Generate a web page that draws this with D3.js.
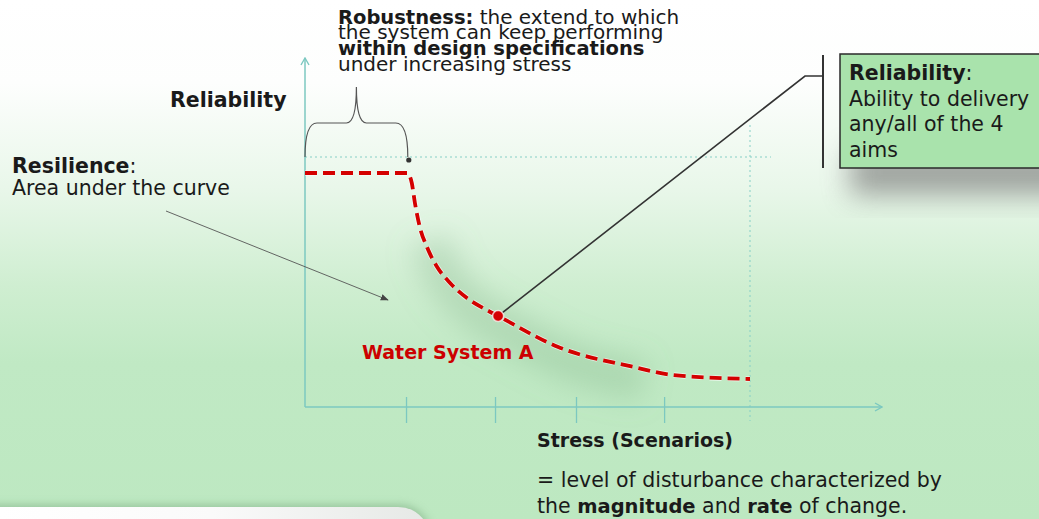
<!DOCTYPE html>
<html>
<head>
<meta charset="utf-8">
<script src="https://cdn.jsdelivr.net/npm/d3@7"></script>
<style>
  body { margin: 0; overflow: hidden; }
  text { font-family: "DejaVu Sans", Verdana, sans-serif; fill: #1a1a1a; }
</style>
</head>
<body>
<script>
// curve of Water System A (stress 0..1, reliability 0..1)
const stress = [0, 0.231, 0.240, 0.247, 0.258, 0.274, 0.297, 0.326, 0.364, 0.400, 0.434, 0.569, 0.739, 0.827, 1.0];
const reliability = [0.936, 0.936, 0.896, 0.816, 0.72, 0.64, 0.56, 0.496, 0.436, 0.396, 0.364, 0.24, 0.16, 0.128, 0.112];
const stressTicks = [0.227, 0.427, 0.609, 0.807];
const markIndex = 10;   // red dot where the reliability callout points
const designLevel = 1;  // dotted design spec level
const maxStress = 1;

const robustnessLines = [
  [["Robustness:", true], [" the extend to which", false]],
  [["the system can keep performing", false]],
  [["within design specifications", true]],
  [["under increasing stress", false]]
];
const reliabilityBox = [
  [["Reliability", true], [":", false]],
  [["Ability to delivery", false]],
  [["any/all of the 4", false]],
  [["aims", false]]
];
const stressNote = [
  [["= level of disturbance characterized by", false]],
  [["the ", false], ["magnitude", true], [" and ", false], ["rate", true], [" of change.", false]]
];

const width = 1039, height = 519;
const x = d3.scaleLinear().domain([0, 1]).range([305, 750]);
const y = d3.scaleLinear().domain([0, 1]).range([407, 157]);

const svg = d3.select("body").append("svg")
  .attr("width", width).attr("height", height);
const defs = svg.append("defs");

// background
const bg = defs.append("linearGradient").attr("id", "bg")
  .attr("x1", 0).attr("y1", 0).attr("x2", 0).attr("y2", 1);
[[0, "#ffffff"], [0.16, "#fdfefd"], [0.36, "#e9f7ea"], [0.55, "#cfeed1"], [0.7, "#c0e9c4"], [1, "#bde8c1"]]
  .forEach(s => bg.append("stop").attr("offset", s[0]).attr("stop-color", s[1]));
svg.append("rect").attr("width", width).attr("height", height).attr("fill", "url(#bg)");

defs.append("filter").attr("id", "blur").attr("x", -0.5).attr("y", -0.5).attr("width", 2).attr("height", 2)
  .append("feGaussianBlur").attr("stdDeviation", 14);
defs.append("filter").attr("id", "blur2").attr("x", -0.5).attr("y", -0.5).attr("width", 2).attr("height", 2)
  .append("feGaussianBlur").attr("stdDeviation", 4);

function chevron(id, color) {
  defs.append("marker").attr("id", id)
    .attr("viewBox", "0 0 10 10").attr("refX", 9).attr("refY", 5)
    .attr("markerWidth", 10).attr("markerHeight", 10).attr("markerUnits", "userSpaceOnUse")
    .attr("orient", "auto")
    .append("path").attr("d", "M2,1 L9,5 L2,9")
    .attr("fill", "none").attr("stroke", color).attr("stroke-width", 1.4);
}
chevron("axisArrow", "#7cc8c0");
defs.append("marker").attr("id", "tri")
  .attr("viewBox", "0 0 10 10").attr("refX", 9).attr("refY", 5)
  .attr("markerWidth", 8).attr("markerHeight", 8).attr("markerUnits", "userSpaceOnUse")
  .attr("orient", "auto")
  .append("path").attr("d", "M0,1 L10,5 L0,9 Z").attr("fill", "#444");

const pts = stress.map((s, i) => [s, reliability[i]]);
const line = d3.line().x(d => x(d[0])).y(d => y(d[1])).curve(d3.curveMonotoneX);
const curvePath = "M" + x(pts[0][0]) + "," + y(pts[0][1]) + "L" + line(pts.slice(1)).slice(1);

// soft shadow around the curve
svg.append("path").attr("d", line(pts.slice(4, 13)))
  .attr("transform", "translate(10,14)")
  .attr("fill", "none").attr("stroke", "#7fae86").attr("stroke-opacity", 0.3)
  .attr("stroke-width", 40).attr("filter", "url(#blur)");

// bottom white panel
const panelGrad = defs.append("linearGradient").attr("id", "panel");
panelGrad.append("stop").attr("offset", 0).attr("stop-color", "#ffffff");
panelGrad.append("stop").attr("offset", 0.5).attr("stop-color", "#fafafa");
panelGrad.append("stop").attr("offset", 1).attr("stop-color", "#e6e9e6");
svg.append("path").attr("d", "M-10,505 L400,505 Q418,505 430,525 L-10,525 Z")
  .attr("fill", "#6f9f74").attr("opacity", 0.5).attr("filter", "url(#blur2)");
svg.append("path").attr("d", "M0,507 L398,507 Q414,507 424,520 L0,520 Z")
  .attr("fill", "url(#panel)");

// guide lines
const guide = svg.append("g").attr("stroke", "#86cfc6").attr("stroke-width", 1)
  .attr("stroke-dasharray", "2,3").attr("fill", "none");
guide.append("line").attr("x1", x(0)).attr("x2", 771).attr("y1", y(designLevel)).attr("y2", y(designLevel));
guide.append("line").attr("x1", x(maxStress)).attr("x2", x(maxStress)).attr("y1", 125).attr("y2", 421);

// axes
svg.append("line").attr("x1", x(0)).attr("y1", y(0)).attr("x2", x(0)).attr("y2", 58)
  .attr("stroke", "#7cc8c0").attr("stroke-width", 1.5).attr("marker-end", "url(#axisArrow)");
svg.append("line").attr("x1", x(0)).attr("y1", y(0)).attr("x2", 882).attr("y2", y(0))
  .attr("stroke", "#7cc8c0").attr("stroke-width", 1.5).attr("marker-end", "url(#axisArrow)");

const xAxis = svg.append("g").attr("transform", `translate(0,${y(0)})`)
  .call(d3.axisBottom(x).tickValues(stressTicks).tickSize(16).tickFormat(""));
xAxis.select(".domain").remove();
xAxis.selectAll(".tick line").attr("y1", -10).attr("stroke", "#7cc8c0").attr("stroke-width", 1.3);

// brace over the robust range
const bx0 = x(0), bx1 = x(stress[1]), bm = (bx0 + bx1) / 2;
svg.append("path")
  .attr("d", `M${bx0},${y(designLevel)} Q${bx0},123 ${bx0 + 12},123 L${bm - 10},123 Q${bm},123 ${bm},87 Q${bm},123 ${bm + 10},123 L${bx1 - 12},123 Q${bx1},123 ${bx1},${y(designLevel)}`)
  .attr("fill", "none").attr("stroke", "#555").attr("stroke-width", 1.2);
svg.append("circle").attr("cx", bx1 + 1).attr("cy", y(designLevel) + 3).attr("r", 2.6).attr("fill", "#333");

// resilience arrow
svg.append("line").attr("x1", 166).attr("y1", 211).attr("x2", 388).attr("y2", 300)
  .attr("stroke", "#555").attr("stroke-width", 0.9).attr("marker-end", "url(#tri)");

// curve
svg.append("path").attr("d", curvePath)
  .attr("fill", "none").attr("stroke", "#ffffff").attr("stroke-opacity", 0.6)
  .attr("stroke-width", 5.5).attr("stroke-dasharray", "12,6");
svg.append("path").attr("d", curvePath)
  .attr("fill", "none").attr("stroke", "#d40000")
  .attr("stroke-width", 3.8).attr("stroke-dasharray", "12,6");

// reliability callout
const mx = x(stress[markIndex]), my = y(reliability[markIndex]);
svg.append("polyline").attr("points", `${mx},${my} 805,76 823,76`)
  .attr("fill", "none").attr("stroke", "#333").attr("stroke-width", 1.6);
svg.append("line").attr("x1", 823).attr("x2", 823).attr("y1", 55).attr("y2", 168)
  .attr("stroke", "#333").attr("stroke-width", 2);
svg.append("circle").attr("cx", mx).attr("cy", my).attr("r", 5.5)
  .attr("fill", "#d40000").attr("stroke", "#fff").attr("stroke-opacity", 0.7).attr("stroke-width", 1.5);

// box with shadow
svg.append("rect").attr("x", 850).attr("y", 150).attr("width", 230).attr("height", 45)
  .attr("fill", "#6a6a6a").attr("opacity", 0.6).attr("filter", "url(#blur)");
svg.append("rect").attr("x", 840).attr("y", 54).attr("width", 210).attr("height", 114)
  .attr("fill", "#a9e3ac").attr("stroke", "#2a2a2a").attr("stroke-width", 1.5);

function block(lines, x0, baselines, size, color, boldSize) {
  const t = svg.append("text").attr("font-size", size).style("fill", color || "#1a1a1a");
  lines.forEach((parts, i) => {
    parts.forEach((p, j) => {
      const ts = t.append("tspan").text(p[0]).attr("font-weight", p[1] ? "bold" : "normal")
        .attr("xml:space", "preserve");
      if (p[1] && boldSize) ts.attr("font-size", boldSize);
      if (j === 0) ts.attr("x", x0).attr("y", baselines[i]);
    });
  });
  t.attr("xml:space", "preserve");
  return t;
}

block(robustnessLines, 338, [24, 39, 55, 71], 20, null, 19.5);
block(reliabilityBox, 849, [80, 106, 131, 157], 20.5);
block([[["Reliability", true]]], 170, [107], 20.5);
block([[["Resilience", true], [":", false]], [["Area under the curve", false]]], 12, [173, 195], 20.5);
block([[["Water System A", true]]], 362, [359], 19, "#cc0000");
block([[["Stress (Scenarios)", true]]], 537, [447], 19);
block(stressNote, 537, [487, 513], 20.5, null, 19.5);
</script>
</body>
</html>
